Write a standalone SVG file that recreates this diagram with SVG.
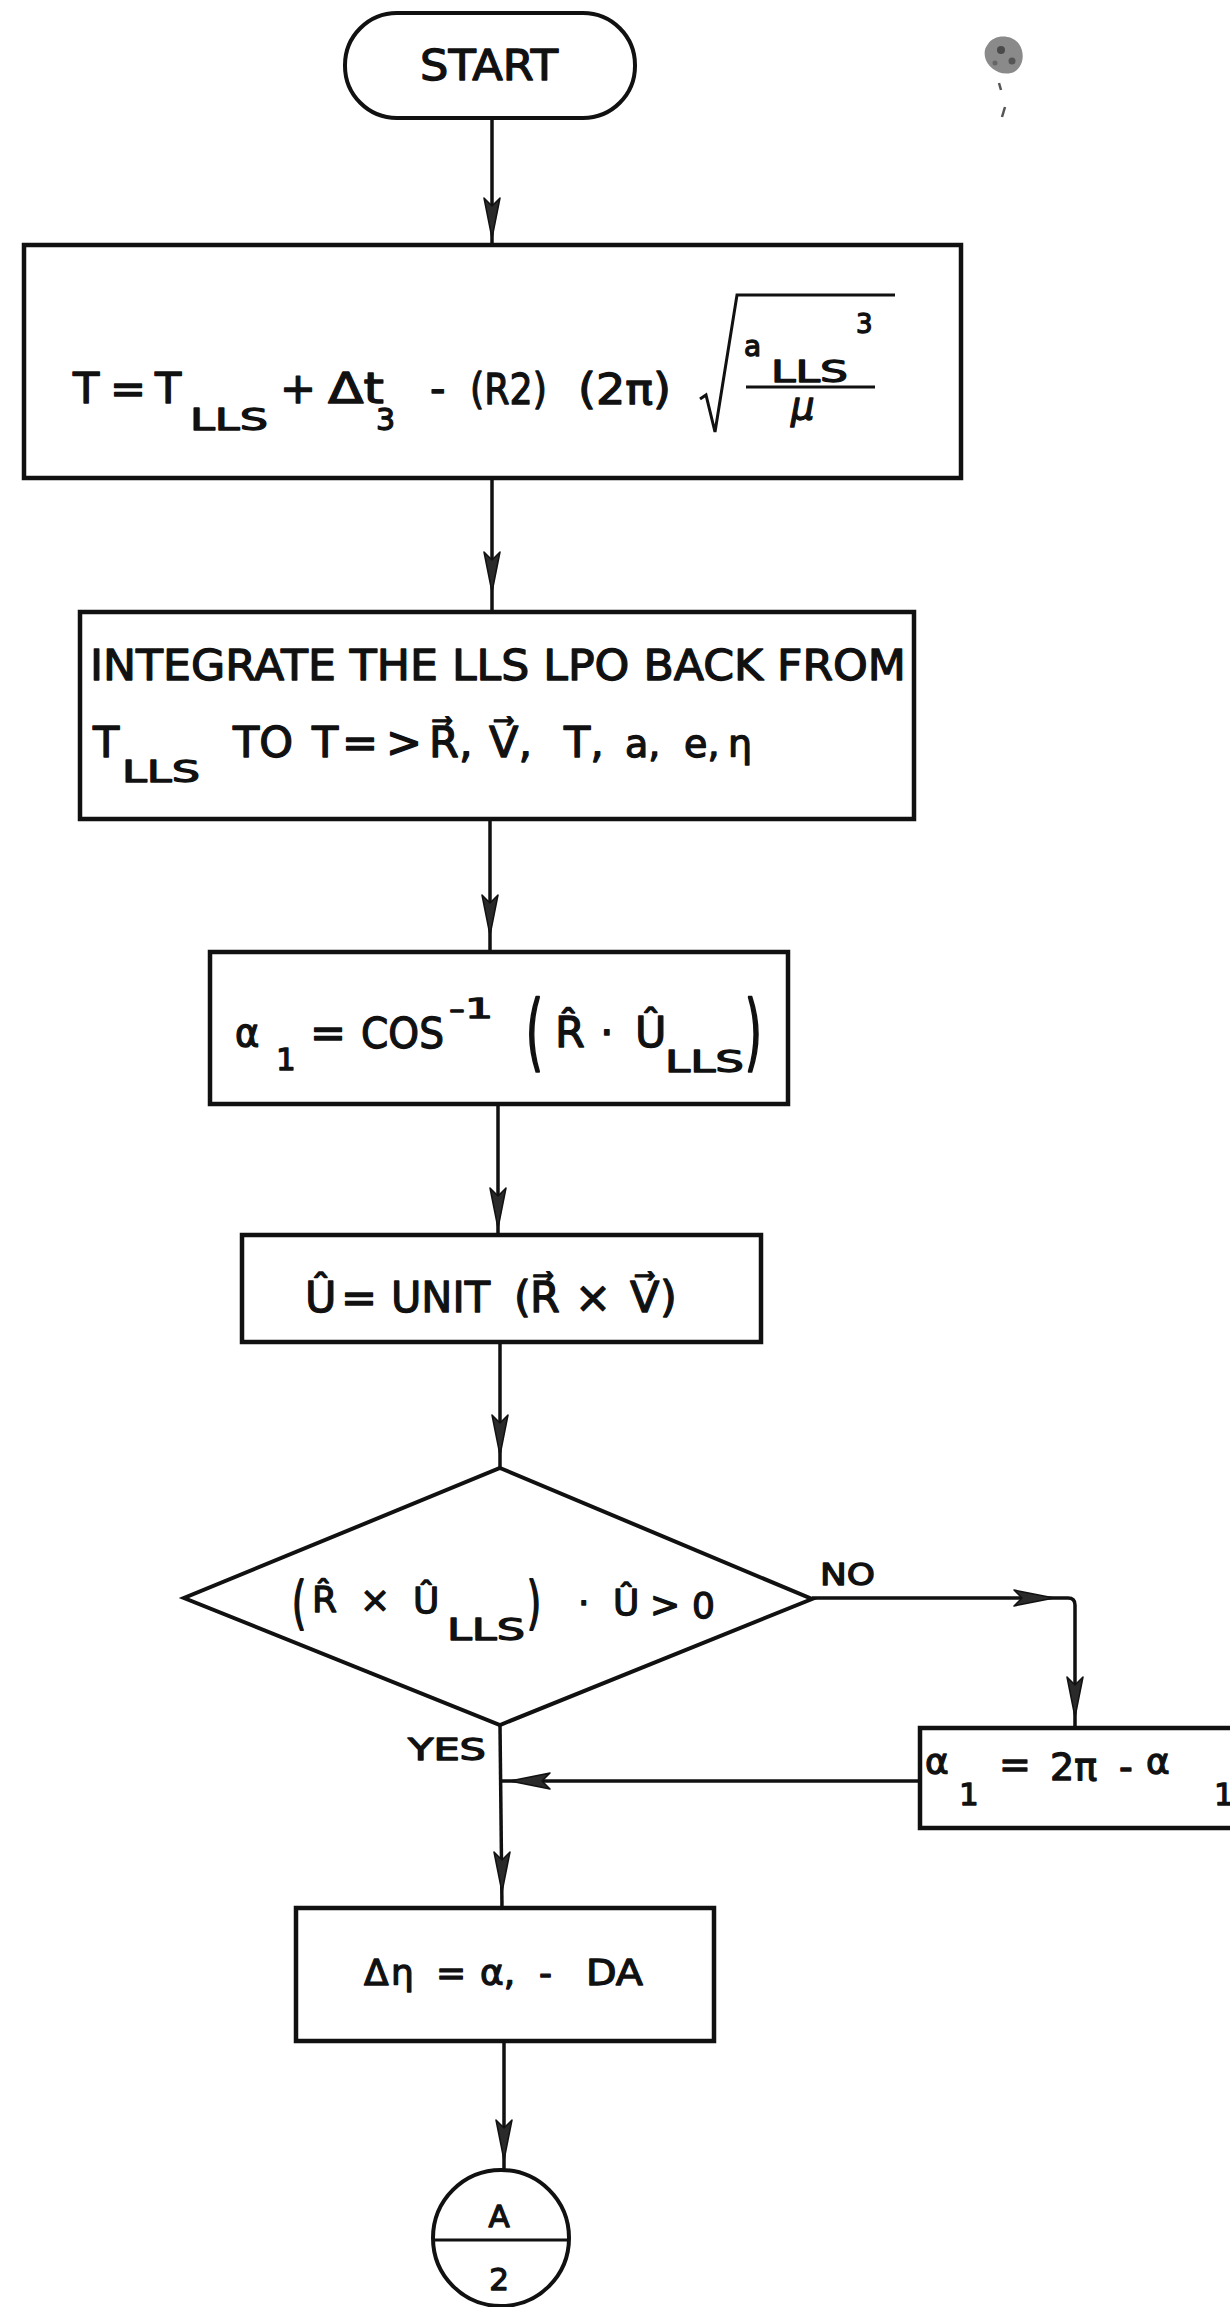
<svg xmlns="http://www.w3.org/2000/svg" width="1230" height="2307" viewBox="0 0 1230 2307">
  <style>
    text { font-family: "DejaVu Sans", "Liberation Sans", sans-serif; fill: #111; stroke: #111; stroke-width: 1.3px; stroke-linejoin: round; }
    .m { font-size: 43px; }
    .s { font-size: 31px; }
    .d { font-size: 36px; }
    .lbl { font-size: 30px; }
    .box { fill: #fff; stroke: #111; stroke-width: 4.5; }
    .shape { fill: #fff; stroke: #111; stroke-width: 4; }
    .wire { fill: none; stroke: #111; stroke-width: 3.5; stroke-linejoin: round; }
    .head { fill: #2a2a2a; stroke: #111; stroke-width: 1.5; stroke-linejoin: round; }
    .rule { stroke: #111; stroke-width: 3; fill: none; }
  </style>
  <defs>
    <!-- long narrow arrowhead, tip at origin, pointing down (+y) -->
    <path id="ah" d="M0,0 L-8,-40 L0,-32 L8,-40 Z"/>
  </defs>

  <rect width="1230" height="2307" fill="#fff"/>

  <!-- speck of ink in the top right margin -->
  <g id="speck" fill="#8a8a8a">
    <path d="M988,44 C994,34 1012,34 1019,44 C1026,54 1023,70 1011,73 C999,76 987,67 985,57 C984,51 985,48 988,44 Z"/>
    <circle cx="1001" cy="50" r="4" fill="#4a4a4a"/>
    <circle cx="1012" cy="61" r="3.5" fill="#555"/>
    <circle cx="995" cy="63" r="2.5" fill="#666"/>
    <path d="M999,83 L1001,90" stroke="#555" stroke-width="2.5"/>
    <path d="M1005,107 L1002,117" stroke="#555" stroke-width="2.5"/>
  </g>

  <!-- connectors -->
  <g id="connectors">
    <path class="wire" d="M492,118 V245"/>
    <use href="#ah" class="head" x="492" y="238"/>
    <path class="wire" d="M492,478 V612"/>
    <use href="#ah" class="head" x="492" y="592"/>
    <path class="wire" d="M490,819 V952"/>
    <use href="#ah" class="head" x="490" y="935"/>
    <path class="wire" d="M498,1104 V1235"/>
    <use href="#ah" class="head" x="498" y="1228"/>
    <path class="wire" d="M500,1342 V1468"/>
    <use href="#ah" class="head" x="500" y="1455"/>
    <!-- NO branch -->
    <path class="wire" d="M812,1598 H1068 Q1075,1598 1075,1605 V1728"/>
    <use href="#ah" class="head" transform="translate(1054,1598) rotate(-90)"/>
    <use href="#ah" class="head" x="1075" y="1717"/>
    <!-- return from the NO box -->
    <path class="wire" d="M920,1781 H502"/>
    <use href="#ah" class="head" transform="translate(510,1781) rotate(90)"/>
    <!-- YES branch -->
    <path class="wire" d="M500,1725 L502,1908"/>
    <use href="#ah" class="head" x="502" y="1892"/>
    <path class="wire" d="M504,2041 V2170"/>
    <use href="#ah" class="head" x="504" y="2160"/>
  </g>

  <!-- START terminal -->
  <g id="start">
    <rect class="shape" x="345" y="13" width="290" height="105" rx="52" ry="52"/>
    <text class="m" x="420" y="80" textLength="138" lengthAdjust="spacingAndGlyphs">START</text>
  </g>

  <!-- T = T_LLS + dt3 - (R2)(2pi) sqrt(a^3/mu) -->
  <g id="period">
    <rect class="box" x="24" y="245" width="937" height="233"/>
    <text class="m" x="73" y="403">T</text>
    <text class="m" x="110" y="403">=</text>
    <text class="m" x="155" y="403">T</text>
    <text class="s" x="190" y="430" textLength="78" lengthAdjust="spacingAndGlyphs">LLS</text>
    <text class="m" x="280" y="403">+</text>
    <text class="m" x="328" y="403" textLength="56" lengthAdjust="spacingAndGlyphs">Δt</text>
    <text class="lbl" x="376" y="430">3</text>
    <text class="m" x="430" y="403">-</text>
    <text class="m" x="470" y="404" textLength="77" lengthAdjust="spacingAndGlyphs">(R2)</text>
    <text class="m" x="578" y="404" textLength="93" lengthAdjust="spacingAndGlyphs">(2π)</text>
    <path class="rule" d="M700,399 L706,395 L715,432 L737,295 H895" stroke-width="3.5"/>
    <text style="font-size:28px" x="744" y="356">a</text>
    <text class="s" x="771" y="382" textLength="77" lengthAdjust="spacingAndGlyphs">LLS</text>
    <text style="font-size:26px" x="856" y="333">3</text>
    <path class="rule" d="M746,387 H875"/>
    <text style="font-size:37px; font-style:italic" x="791" y="419">μ</text>
  </g>

  <!-- integrate the LPO back -->
  <g id="integrate">
    <rect class="box" x="80" y="612" width="834" height="207"/>
    <text class="m" x="90" y="680" textLength="816" lengthAdjust="spacingAndGlyphs">INTEGRATE THE LLS LPO BACK FROM</text>
    <text class="m" x="93" y="757">T</text>
    <text class="s" x="122" y="782" textLength="78" lengthAdjust="spacingAndGlyphs">LLS</text>
    <text class="m" y="757"><tspan x="233">TO</tspan><tspan x="312">T</tspan><tspan x="342">=</tspan><tspan x="386">&gt;</tspan><tspan x="429">R⃗,</tspan><tspan x="489">V⃗,</tspan><tspan x="564">T,</tspan></text>
    <text style="font-size:38px" y="757"><tspan x="625">a,</tspan><tspan x="684">e,</tspan><tspan x="728">η</tspan></text>
  </g>

  <!-- alpha1 = arccos(R . U_LLS) -->
  <g id="alpha">
    <rect class="box" x="210" y="952" width="578" height="152"/>
    <text style="font-size:37px" x="235" y="1046">α</text>
    <text class="s" x="276" y="1070">1</text>
    <text class="m" x="310" y="1047">=</text>
    <text class="m" x="361" y="1048" textLength="83" lengthAdjust="spacingAndGlyphs">COS</text>
    <text style="font-size:26px" x="449" y="1018" textLength="44" lengthAdjust="spacingAndGlyphs">-1</text>
    <text class="m" transform="translate(526,1061) scale(1,1.94)">(</text>
    <text class="m" x="555" y="1047">R̂</text>
    <text class="m" x="600" y="1047">·</text>
    <text class="m" x="635" y="1047">Û</text>
    <text class="s" x="665" y="1072" textLength="79" lengthAdjust="spacingAndGlyphs">LLS</text>
    <text class="m" transform="translate(745,1061) scale(1,1.94)">)</text>
  </g>

  <!-- unit normal -->
  <g id="unit">
    <rect class="box" x="242" y="1235" width="519" height="107"/>
    <text class="m" x="305" y="1312">Û</text>
    <text class="m" x="341" y="1312">=</text>
    <text class="m" x="391" y="1312" textLength="99" lengthAdjust="spacingAndGlyphs">UNIT</text>
    <text class="m" y="1312"><tspan x="514">(</tspan><tspan x="530">R⃗</tspan><tspan x="575">×</tspan><tspan x="630">V⃗</tspan><tspan x="660">)</tspan></text>
  </g>

  <!-- sign test -->
  <g id="test">
    <polygon class="shape" points="500,1468 812,1599 500,1725 184,1598"/>
    <text class="d" transform="translate(292,1622) scale(1,1.6)">(</text>
    <text class="d" x="312" y="1612">R̂</text>
    <text class="d" x="360" y="1612">×</text>
    <text class="d" x="413" y="1613">Û</text>
    <text class="s" x="447" y="1640" textLength="78" lengthAdjust="spacingAndGlyphs">LLS</text>
    <text class="d" transform="translate(527,1622) scale(1,1.6)">)</text>
    <text class="d" x="578" y="1615">·</text>
    <text class="d" x="613" y="1615">Û</text>
    <text class="d" x="650" y="1617">&gt;</text>
    <text class="d" x="692" y="1618">0</text>
  </g>
  <g id="label-no">
    <text class="lbl" x="820" y="1585" textLength="55" lengthAdjust="spacingAndGlyphs">NO</text>
  </g>
  <g id="label-yes">
    <text class="lbl" x="408" y="1760" textLength="78" lengthAdjust="spacingAndGlyphs">YES</text>
  </g>

  <!-- alpha1 = 2pi - alpha1 -->
  <g id="wrap">
    <rect class="box" x="920" y="1728" width="340" height="100"/>
    <text style="font-size:36px" x="925" y="1774">α</text>
    <text class="s" x="959" y="1805">1</text>
    <text style="font-size:38px" x="999" y="1777">=</text>
    <text style="font-size:38px" x="1050" y="1780">2π</text>
    <text style="font-size:38px" x="1119" y="1780">-</text>
    <text style="font-size:36px" x="1146" y="1774">α</text>
    <text class="s" x="1214" y="1805">1</text>
  </g>

  <!-- delta eta -->
  <g id="delta">
    <rect class="box" x="296" y="1908" width="418" height="133"/>
    <text class="d" y="1985"><tspan x="364">Δ</tspan><tspan x="391">η</tspan><tspan x="436">=</tspan><tspan x="480">α,</tspan><tspan x="539">-</tspan></text>
    <text class="d" x="586" y="1985" textLength="57" lengthAdjust="spacingAndGlyphs">DA</text>
  </g>

  <!-- off-page connector -->
  <g id="connector-a2">
    <circle class="shape" cx="501" cy="2238" r="68" stroke-width="3.5"/>
    <path class="rule" d="M434,2240 H568" stroke-width="3.5"/>
    <text class="s" x="499" y="2227" text-anchor="middle">A</text>
    <text class="s" x="499" y="2290" text-anchor="middle">2</text>
  </g>
</svg>
